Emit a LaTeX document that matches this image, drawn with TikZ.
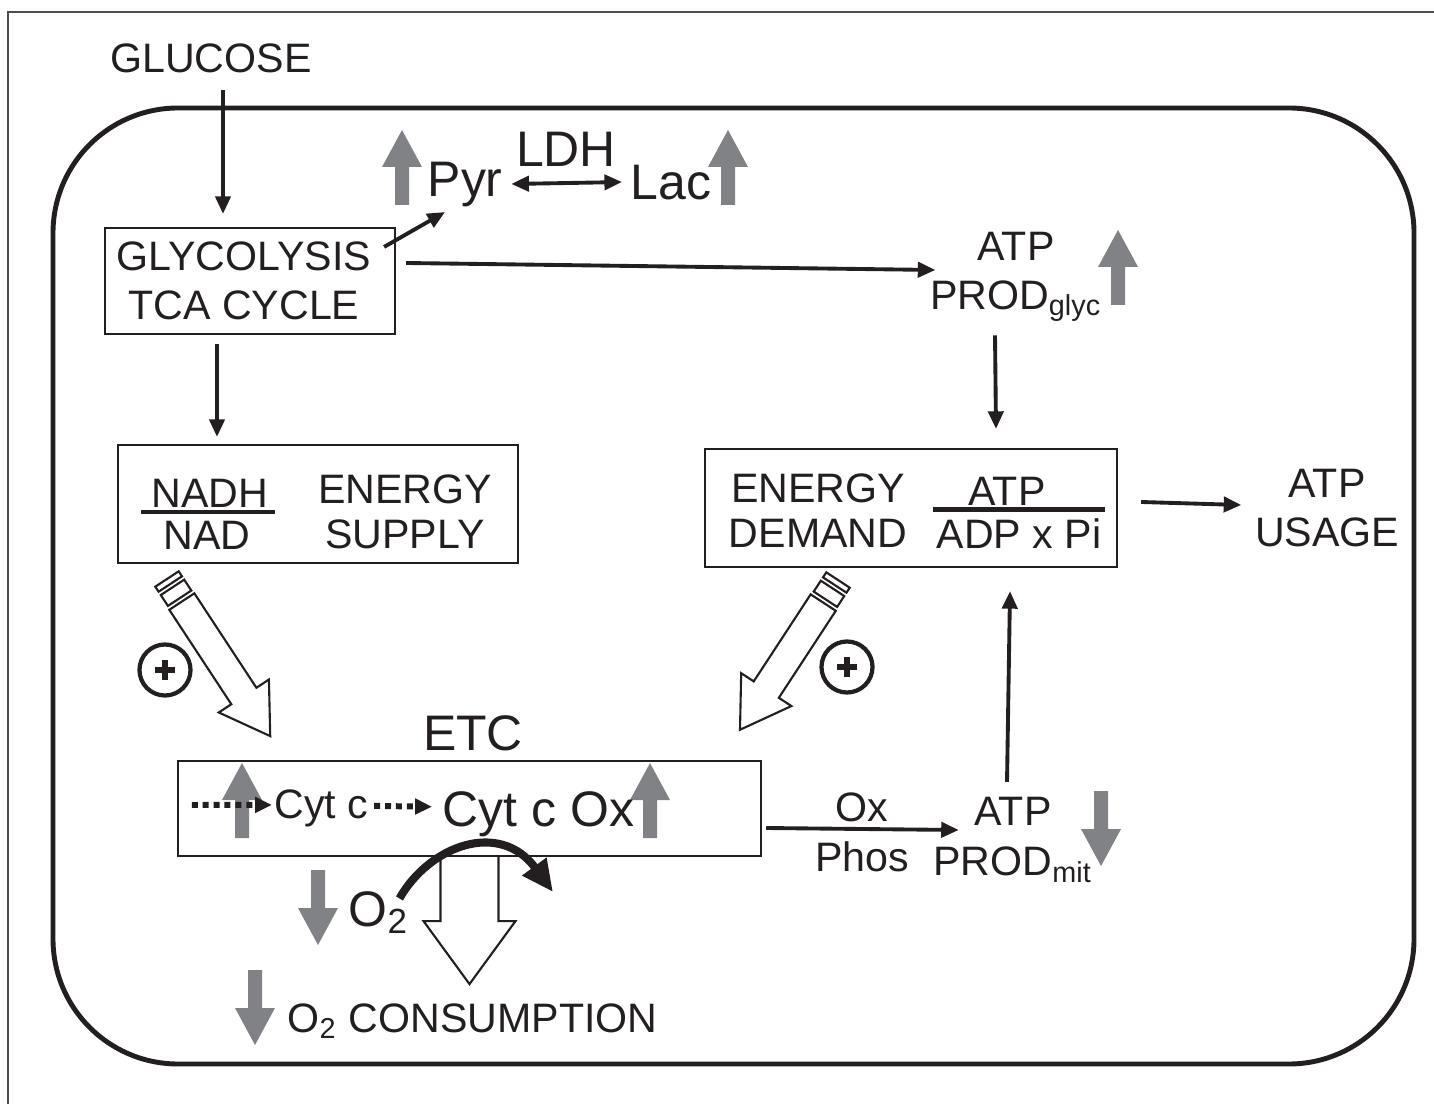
\documentclass[tikz,border=0pt]{standalone}
\usepackage{fontspec}
\setmainfont{Liberation Sans}
\usetikzlibrary{arrows.meta,calc}

\definecolor{arrgray}{RGB}{128,130,133}
\definecolor{inkblack}{RGB}{35,31,32}

\tikzset{
  lbl/.style={inner sep=0pt, align=center, text=inkblack, font=\fontsize{11.7}{13.9}\selectfont},
  big/.style={inner sep=0pt, text=inkblack, font=\fontsize{14.2}{16}\selectfont},
  box/.style={draw=inkblack, line width=0.6pt, inner sep=0pt},
  cell/.style={draw=inkblack, line width=1.4pt, rounded corners=1.25cm},
  outline/.style={draw=black!70, line width=0.5pt},
  conn/.style={draw=inkblack, line width=1.1pt, -{Triangle[length=5pt,width=4.3pt]}},
  dconn/.style={conn, {Triangle[length=5pt,width=4.3pt]}-{Triangle[length=5pt,width=4.3pt]}},
  dotconn/.style={draw=inkblack, line width=1.7pt, dash pattern=on 1.7pt off 1.4pt, -{Triangle[length=4.8pt,width=4.3pt]}},
  curvearr/.style={draw=inkblack, line width=2.3pt, -{Triangle[length=9pt,width=8pt]}},
  hollowline/.style={draw=inkblack, line width=0.6pt, line join=miter},
  fracbar/.style={draw=inkblack, line width=1.2pt},
  plussign/.style={circle, draw=inkblack, line width=1.2pt, minimum size=0.51cm, inner sep=0pt,
    path picture={\draw[inkblack, line width=1.9pt] (path picture bounding box.center) +(-10,0) -- +(10,0) +(0,-10) -- +(0,10);}},
  gup/.pic={\fill[arrgray] (0,0) -- (20,37) -- (7,37) -- (7,75) -- (-7,75) -- (-7,37) -- (-20,37) -- cycle;},
  pics/hollow/.style={code={
    \draw[hollowline, fill=white] (0,-14) rectangle (6,14);
    \draw[hollowline, fill=white] (10,-14) rectangle (23,14);
    \draw[hollowline, fill=white] (27,-15) -- (#1-48,-15) -- (#1-48,-30) -- (#1,0) -- (#1-48,30) -- (#1-48,15) -- (27,15) -- cycle;
  }}
}

\begin{document}
\begin{tikzpicture}[x=0.01cm, y=-0.01cm]
  \useasboundingbox (0,0) rectangle (1434,1104);
  \draw[outline] (8,1104) -- (8,12) -- (1434,12);

  % cell
  \draw[cell] (53,108) rectangle (1414,1064);

  % boxes
  \node[box, minimum width=2.9cm, minimum height=1.06cm] (glyc) at (250,281) {};
  \node[box, minimum width=4cm, minimum height=1.18cm] (supply) at (318,504) {};
  \node[box, minimum width=4.12cm, minimum height=1.18cm] (demand) at (911,508) {};
  \node[box, minimum width=5.83cm, minimum height=0.95cm] (etc) at (469.5,808.5) {};

  % gray up / down arrows
  \foreach \px/\py in {402/130, 728/130, 1118/230, 242/763, 650/763}
    \pic at (\px,\py) {gup};
  \foreach \px/\py in {1101/866, 318/945, 255/1045}
    \pic[rotate=180] at (\px,\py) {gup};

  % labels
  \node[lbl, anchor=base] (glucose) at (211,73) {GLUCOSE};
  \node[lbl] (glyctxt) at (244,281) {GLYCOLYSIS\\TCA CYCLE};
  \node[big, anchor=base west] (pyr) at (427,197) {Pyr};
  \node[big, anchor=base] (ldh) at (566,167) {LDH};
  \node[big, anchor=base west] (lac) at (630,200) {Lac};
  \node[lbl] (atpg) at (1016,277) {ATP\\PROD\textsubscript{glyc}};
  \node[lbl, anchor=base] (nadh) at (210,508) {NADH};
  \node[lbl, anchor=base] (nad) at (207,550) {NAD};
  \node[lbl, font=\fontsize{11.7}{12.8}\selectfont] (enersup) at (405,512) {ENERGY\\SUPPLY};
  \node[lbl, font=\fontsize{11.7}{12.8}\selectfont] (endem) at (818,511) {ENERGY\\DEMAND};
  \node[lbl, anchor=base] (atpnum) at (1007,506) {ATP};
  \node[lbl, anchor=base] (adp) at (1019,549) {ADP x Pi};
  \node[lbl] (usage) at (1327,508) {ATP\\USAGE};
  \node[big, anchor=base] (etclbl) at (473,751) {ETC};
  \node[lbl, anchor=base west] (cytc) at (274,818) {Cyt c};
  \node[big, anchor=base west] (cytox) at (442,826) {Cyt c Ox};
  \node[lbl, font=\fontsize{11.7}{14.2}\selectfont] (oxphos) at (862,832) {Ox\\Phos};
  \node[lbl, font=\fontsize{11.7}{14.2}\selectfont] (atpm) at (1013,840) {ATP\\PROD\textsubscript{mit}};
  \node[big, anchor=base west] (otwo) at (348,926) {O\textsubscript{2}};
  \node[lbl, anchor=base west] (otwocons) at (287,1032) {O\textsubscript{2} CONSUMPTION};

  % fraction bars
  \draw[fracbar] ($(nadh.south west)+(-10,3)$) -- ($(nadh.south east)+(6,3)$);
  \draw[fracbar] ($(adp.north west)+(-3,-9)$) -- ($(adp.north east)+(3,-9)$);

  % plus signs
  \node[plussign] (plusl) at (165,670) {};
  \node[plussign] (plusr) at (847,667) {};

  % connectors
  \draw[conn] ($(glucose.south)+(12,16)$) -- ($(glyc.north)+(-27,-13)$);
  \draw[conn] ($(glyc.north east)+(-12,20)$) -- ($(pyr.south west)+(18,4)$);
  \draw[dconn] ($(pyr.east)+(8,-1)$) -- ($(lac.west)+(-8,-1)$);
  \draw[conn] ($(glyc.east)+(10,-18)$) -- ($(atpg.west)+(6,-7)$);
  \draw[conn] ($(atpg.south)+(-21,13)$) -- ($(demand.north)+(85,-19)$);
  \draw[conn] ($(demand.east)+(23,-6)$) -- ($(usage.west)+(-13,-3)$);
  \draw[conn] ($(glyc.south)+(-33,9)$) -- ($(supply.north)+(-101,-7)$);
  \draw[conn] ($(etc.east)+(4,19.5)$) -- ($(atpm.west)+(26,-10)$);
  \draw[conn] ($(atpm.north)+(-6,-15)$) -- ($(demand.south)+(99,23)$);

  % electron flow
  \draw[dotconn] ($(etc.west)+(15,-3.5)$) -- ($(cytc.west)+(-2,-3)$);
  \draw[dotconn] ($(cytc.east)+(5,-2)$) -- ($(cytox.west)+(-10,-7)$);

  % stimulating arrows
  \pic[rotate=-56.7] at (167,579) {hollow=188};
  \pic[rotate=-123.2] at (838,580) {hollow=179};

  % O2 consumption
  \draw[hollowline] ($(etc.south)+(-29,0)$) -- ++(0,64) -- ++(-17,0) -- ++(46,63) -- ++(46,-63) -- ++(-17,0) -- ++(0,-64);
  \coordinate (spent) at (553,892);
  \draw[curvearr] ($(otwo.north east)+(-10,8)$) .. controls (430,845) and (500,820) .. (spent);
\end{tikzpicture}
\end{document}
